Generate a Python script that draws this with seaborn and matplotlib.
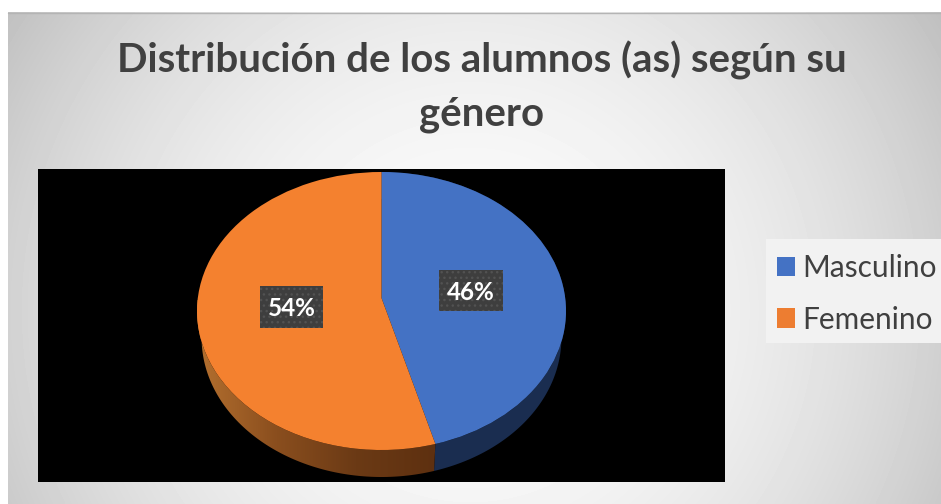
import numpy as np
import matplotlib
matplotlib.use("Agg")
import matplotlib.pyplot as plt
from matplotlib.patches import Patch, Polygon, Rectangle
from matplotlib.transforms import Transform
import seaborn as sns

# --- DATA ---------------------------------------------------------------------

TITLE      = "Distribución de los alumnos (as) según su\ngénero"
CATEGORIES = ["Masculino", "Femenino"]
VALUES     = [45.7, 54.3]

FACE_COLORS   = ["#4472C4", "#F4812F"]
LEGEND_COLORS = ["#4472C4", "#ED7D31"]
WALL_BLUE     = "#1A2D50"
WALL_ORANGE   = ["#B4702F", "#8A4E1E", "#6B3A15", "#5E3010"]

# --- LAYOUT (piksele) ---------------------------------------------------------

W, H = 941, 504
CX, APEX_Y = 381.5, 298
A, B, P    = 183.7, 137.8, -0.0935
WALL_H     = 27
WALL_SCALE = 0.975


class Perspective(Transform):
    """Kolo jednostkowe pie -> elipsa w pikselach, z lekka perspektywa."""
    input_dims = 2
    output_dims = 2

    def __init__(self, shift=0, scale=1.0):
        super().__init__()
        self.shift = shift
        self.scale = scale

    def transform_non_affine(self, xy):
        xy = np.asarray(xy, dtype=float)
        w = 1 - P * xy[:, 1]
        px = CX + self.scale * A * xy[:, 0] / w
        py = APEX_Y + self.shift - B * xy[:, 1] / w
        return np.column_stack([px, py])


def rim(frac_from, frac_to, shift=0, scale=1.0):
    t = np.linspace(frac_from, frac_to, 200) * 2 * np.pi
    return Perspective(shift, scale).transform_non_affine(
        np.column_stack([np.sin(t), np.cos(t)]))


sns.set_theme(style="white")
plt.rcParams["font.family"] = ["Lato", "DejaVu Sans"]

fig = plt.figure(figsize=(W / 100, H / 100), dpi=100, facecolor="white")
ax = fig.add_axes([0, 0, 1, 1])

# --- PIE ----------------------------------------------------------------------

wedges, _ = ax.pie(VALUES, colors=FACE_COLORS, startangle=90, counterclock=False)
ax.set_aspect("auto")
ax.set_xlim(0, W)
ax.set_ylim(H, 0)
ax.axis("off")

# Tlo karty: gradient radialny
yy, xx = np.mgrid[12:H, 8:W]
dist = np.hypot((xx - 470) / 500, (yy - 310) / 500)
shade = 0.985 - 0.19 * dist ** 2
ax.imshow(shade, extent=(8, W, H, 12), cmap="gray", vmin=0, vmax=1,
          aspect="auto", zorder=0)
ax.plot([8, W], [12.5, 12.5], color="#b4b4b4", lw=1, zorder=1)

# Czarny obszar wykresu
ax.add_patch(Rectangle((38, 169), 687, 313, fc="black", ec="none", zorder=1))

# Sciana boczna
fracs = np.cumsum([0] + VALUES) / sum(VALUES)
wall_polys = []
for i in range(len(VALUES)):
    top = rim(fracs[i], fracs[i + 1])
    low = rim(fracs[i], fracs[i + 1], WALL_H, WALL_SCALE)
    wall_polys.append(np.vstack([top, low[::-1]]))

ax.add_patch(Polygon(wall_polys[0], fc=WALL_BLUE, ec="none", zorder=2))
poly = Polygon(wall_polys[1], fc="none", ec="none", zorder=2)
ax.add_patch(poly)
wall_cmap = sns.blend_palette(WALL_ORANGE, as_cmap=True)
grad = ax.imshow(np.linspace(0, 1, 256)[None, :], extent=(197, 436, 480, 300),
                 cmap=wall_cmap, aspect="auto", zorder=2)
grad.set_clip_path(poly)

for wedge in wedges:
    wedge.set_transform(Perspective() + ax.transData)
    wedge.set_zorder(3)
    wedge.set_edgecolor("none")

ax.set_xlim(0, W)
ax.set_ylim(H, 0)

# --- ETYKIETY -----------------------------------------------------------------

plt.rcParams["hatch.linewidth"] = 1.0
label_boxes = [(439, 270, 64, 41), (260, 286, 63, 42)]
for val, (bx, by, bw, bh) in zip(VALUES, label_boxes):
    ax.add_patch(Rectangle((bx, by), bw, bh, fc="#3E3E3E", ec="#525252",
                           lw=0, hatch="...", zorder=4))
    ax.text(bx + bw / 2, by + bh / 2 + 2, f"{val:.0f}%", color="white",
            fontsize=17.5, fontweight="bold", ha="center", va="center", zorder=5)

ax.text(482, 87, TITLE, color="#404040", fontsize=28.9, fontweight="bold",
        ha="center", va="center", linespacing=1.52, zorder=5)

# --- LEGENDA ------------------------------------------------------------------

ax.add_patch(Rectangle((766, 239), 175, 104, fc="#F2F2F2", ec="none", zorder=1))
handles = [Patch(fc=c, ec="none") for c in LEGEND_COLORS]
leg = ax.legend(handles, CATEGORIES, loc="upper left",
                bbox_to_anchor=(771, 248), bbox_transform=ax.transData,
                frameon=False, fontsize=21.5, labelcolor="#404040",
                handlelength=0.62, handleheight=0.62, handletextpad=0.23,
                labelspacing=0.79, borderpad=0.2, borderaxespad=0)
leg.set_zorder(5)

fig.savefig("out.png", dpi=100, facecolor="white")
plt.close(fig)
